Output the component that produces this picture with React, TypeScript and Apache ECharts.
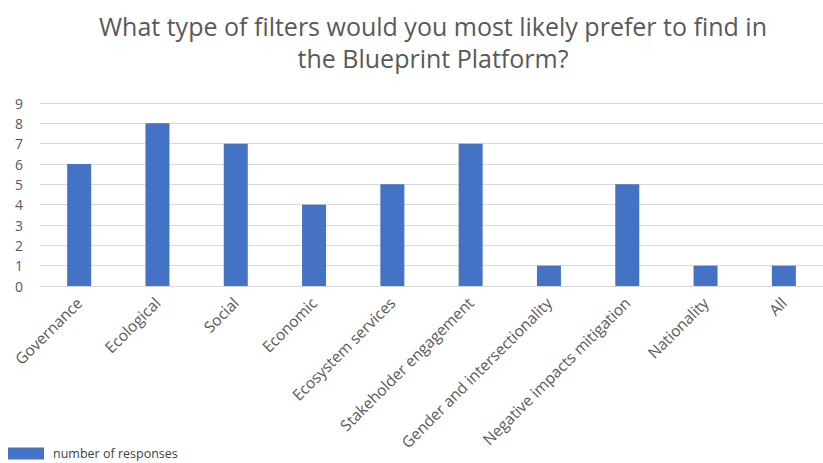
import React, { useEffect, useRef } from "react";
import * as echarts from "echarts";

const categories = [
  "Governance",
  "Ecological",
  "Social",
  "Economic",
  "Ecosystem services",
  "Stakeholder engagement",
  "Gender and intersectionality",
  "Negative impacts mitigation",
  "Nationality",
  "All",
];
const responses = [6, 8, 7, 4, 5, 7, 1, 5, 1, 1];
const seriesName = "number of responses";
const titleText = "What type of filters would you most likely prefer to find in\nthe Blueprint Platform?";

export default function App() {
  const ref = useRef<HTMLDivElement>(null);
  useEffect(() => {
    if (!ref.current) return;
    const chart = echarts.init(ref.current, undefined, { renderer: "svg" });
    const font = "'Open Sans', 'Noto Sans', sans-serif";
    chart.setOption({
      animation: false,
      backgroundColor: "#ffffff",
      title: {
        text: titleText,
        left: 428,
        textAlign: "center",
        top: 5,
        textStyle: {
          fontFamily: font,
          fontSize: 25,
          fontWeight: "normal",
          color: "#595959",
          lineHeight: 32,
        },
      },
      legend: {
        left: 8,
        top: 447,
        padding: 0,
        itemWidth: 36,
        itemHeight: 12,
        itemGap: 10,
        icon: "rect",
        textStyle: { fontFamily: font, fontSize: 12.5, color: "#404040", padding: [0, 0, 0, 4] },
        data: [seriesName],
      },
      grid: { left: 40, right: -1, top: 103, bottom: 177, containLabel: false },
      xAxis: {
        type: "category",
        data: categories,
        axisLine: { show: true, lineStyle: { color: "#d9d9d9" } },
        axisTick: { show: false },
        axisLabel: {
          rotate: 45,
          interval: 0,
          margin: 14,
          fontFamily: font,
          fontSize: 15.5,
          color: "#595959",
        },
      },
      yAxis: {
        type: "value",
        min: 0,
        max: 9,
        interval: 1,
        axisLine: { show: false },
        axisTick: { show: false },
        splitLine: { lineStyle: { color: "#d9d9d9", width: 1 } },
        axisLabel: { fontFamily: font, fontSize: 14, color: "#595959", margin: 17 },
      },
      series: [
        {
          name: seriesName,
          type: "bar",
          data: responses,
          barWidth: 24,
          itemStyle: { color: "#4472C4" },
        },
      ],
    });
    return () => chart.dispose();
  }, []);
  return (
    <div
      ref={ref}
      style={{ position: "fixed", left: 0, top: 0, width: 823, height: 463 }}
    />
  );
}
